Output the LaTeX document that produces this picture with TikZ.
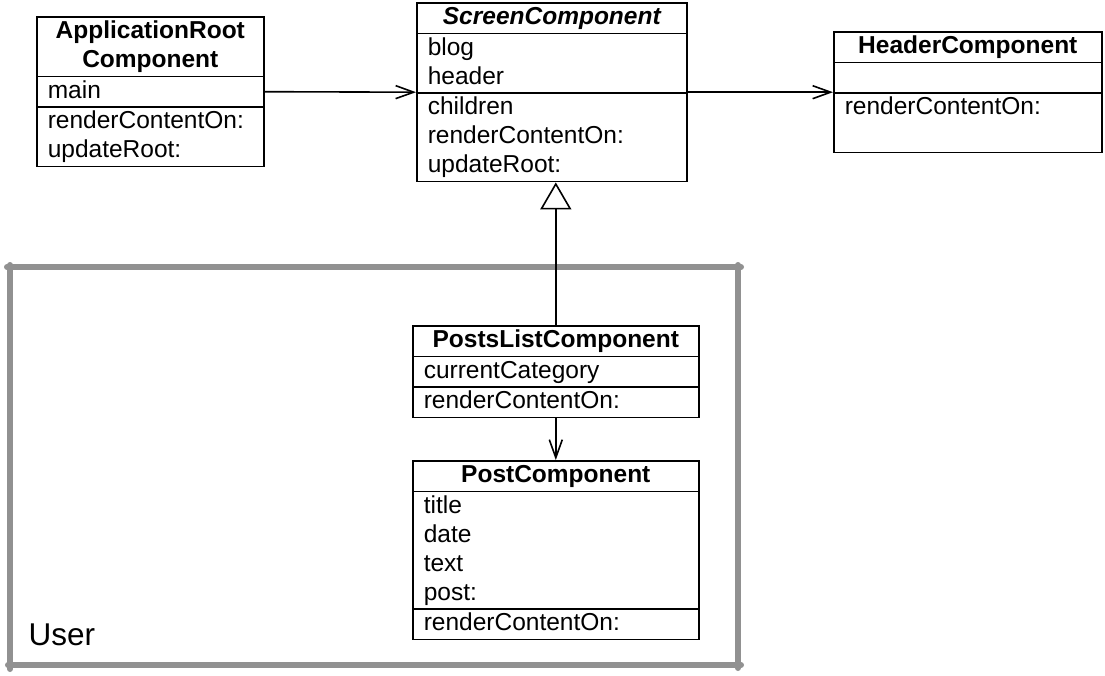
\documentclass[tikz,border=0pt]{standalone}
\usepackage{fontspec}
\setmainfont{Liberation Sans}
\usepackage{tikz}
\usetikzlibrary{shapes,arrows.meta,positioning}
\definecolor{framegray}{RGB}{145,145,145}
\newcommand{\ls}{\rule[-8pt]{0pt}{29pt}}
\newcommand{\ttl}[1]{\makebox[\linewidth]{\ls #1}}

\begin{document}
\begin{tikzpicture}[x=1pt,y=-1pt,
    cls/.style={rectangle split,rectangle split parts=3,draw,line width=1.6pt,
      inner xsep=11pt,inner ysep=0pt,align=left,anchor=north west,
      font=\fontsize{24.5}{29}\selectfont},
    assoc/.style={line width=1.6pt,-{Straight Barb[length=18pt,width=13pt]}},
    inh/.style={line width=1.6pt,-{Triangle[open,length=27pt,width=31pt]}},
    frame/.style={line width=6pt,framegray,line cap=round}]
    \useasboundingbox (0,0) rectangle (1105,675);
    % package frame
    \draw[frame] (7,267) -- (741,267);
    \draw[frame] (10,265) -- (10,669);
    \draw[frame] (8,665) -- (741,665);
    \draw[frame] (738,265) -- (738,668);
    \node[anchor=base west,font=\fontsize{31.5}{36}\selectfont] (user) at (25,645) {User};
    % classes
    \node[cls,text width=205pt] (approot) at (36,16)
      {\bfseries\ttl{ApplicationRoot}\\\ttl{Component}
       \nodepart{second}\ls main
       \nodepart{third}\ls renderContentOn:\\\ls updateRoot:};
    \node[cls,text width=248pt] (screen) at (416,2)
      {\bfseries\itshape\ttl{ScreenComponent}
       \nodepart{second}\ls blog\\\ls header
       \nodepart{third}\ls children\\\ls renderContentOn:\\\ls updateRoot:};
    \node[cls,text width=246pt] (header) at (833,31)
      {\bfseries\ttl{HeaderComponent}
       \nodepart{second}\ls
       \nodepart{third}\ls renderContentOn:\\\ls};
    \node[cls,text width=264pt] (postslist) at (412,325)
      {\bfseries\ttl{PostsListComponent}
       \nodepart{second}\ls currentCategory
       \nodepart{third}\ls renderContentOn:};
    \node[cls,text width=264pt] (post) at (412,460)
      {\bfseries\ttl{PostComponent}
       \nodepart{second}\ls title\\\ls date\\\ls text\\\ls post:
       \nodepart{third}\ls renderContentOn:};
    % connectors
    \draw[assoc] (approot.east) -- (screen.west);
    \draw[assoc] (screen.east) -- (header.west);
    \draw[inh] (postslist.north) -- (postslist.north |- screen.south);
    \draw[assoc] (postslist.south) -- (post.north);
\end{tikzpicture}
\end{document}
